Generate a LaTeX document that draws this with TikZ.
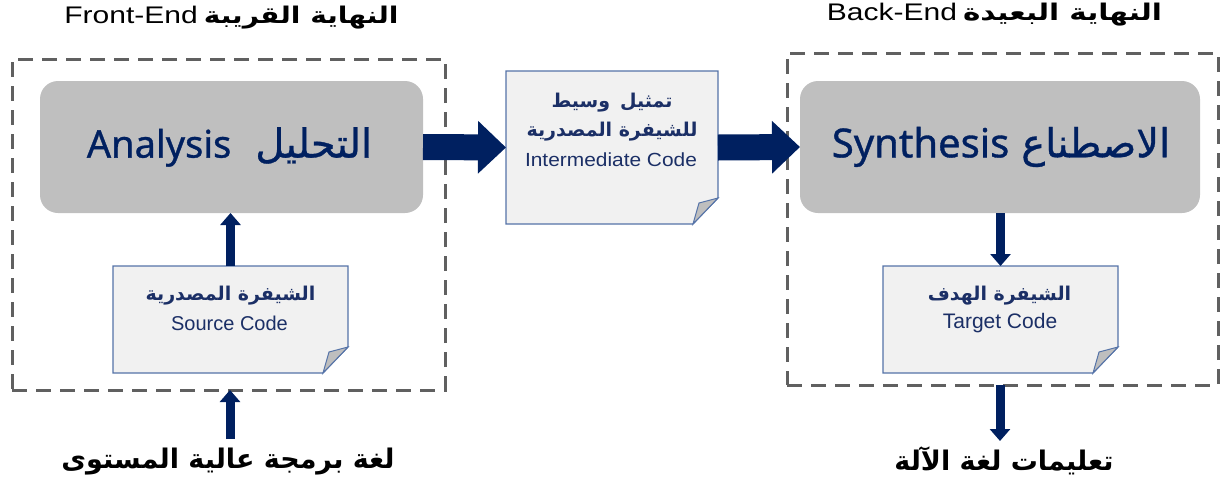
\documentclass[tikz,border=0pt]{standalone}
\usepackage{fontspec}
\usepackage{graphicx}
\setmainfont{Liberation Sans}
\newfontfamily\arabicfont[Script=Arabic]{DejaVu Sans}
\newfontfamily\stagearabic[Script=Arabic,FakeBold=0.8]{DejaVu Sans}
\newfontfamily\titlefont[FakeBold=0.9]{Noto Sans}
\TeXXeTstate=1
\usetikzlibrary{arrows.meta}
\newcommand\fsz[1]{\fontsize{#1}{#1}\selectfont}
\newcommand\wide[2]{\scalebox{#1}[1]{#2}}
\definecolor{navy}{HTML}{002060}
\definecolor{doctext}{HTML}{1B2F66}
\definecolor{dashgray}{HTML}{606060}
\definecolor{boxgray}{HTML}{BFBFBF}
\definecolor{docfill}{HTML}{F1F1F1}
\definecolor{docline}{HTML}{5573A8}
\definecolor{foldfill}{HTML}{BEBEBE}
% document sheet with a folded bottom-right corner
\newcommand\docsheet[1]{%
  \draw[docline, line width=1.2pt, fill=docfill]
    (#1.north west) -- (#1.north east) -- ([yshift=26pt]#1.south east)
    -- ([xshift=-25pt]#1.south east) -- (#1.south west) -- cycle;
  \draw[docline, line width=1pt, fill=foldfill]
    ([yshift=26pt]#1.south east) -- ([xshift=-19pt,yshift=21pt]#1.south east)
    -- ([xshift=-25pt]#1.south east) -- cycle;}
\begin{document}
\begin{tikzpicture}[x=1pt,y=-1pt,
  every node/.style={inner sep=0pt, outer sep=0pt},
  dashbox/.style={draw=dashgray, line width=3pt, dash pattern=on 15pt off 9pt},
  stagebox/.style={fill=boxgray, rounded corners=18pt, minimum height=132pt},
  sheet/.style={minimum width=235pt, minimum height=107pt},
  bigarrow/.style={navy, line width=26pt, -{Triangle[length=28pt, width=51pt]}},
  smallarrow/.style={navy, line width=9pt, -{Triangle[length=12pt, width=20pt]}},
  stagetext/.style={text=navy},
  doclabel/.style={text=doctext},
  caption/.style={text=black}]
\useasboundingbox (0,0) rectangle (1222,482);

% the two stage groups
\node[dashbox, minimum width=433pt, minimum height=331pt] (frontend) at (228.5,224.5) {};
\node[dashbox, minimum width=431pt, minimum height=332pt] (backend) at (1002.5,219) {};

% stage boxes
\node[stagebox, minimum width=383pt] (analysis) at (231.5,147) {};
\node[stagebox, minimum width=400pt] (synthesis) at (1000,147) {};
\node[stagetext] (analysislbl) at (229.5,147)
  {{\titlefont\fsz{38}Analysis}\hspace{24pt}{\stagearabic\fsz{40}\beginR التحليل\endR}};
\node[stagetext] (synthesislbl) at (1001,147)
  {{\titlefont\fsz{40}Synthesis}\hspace{12pt}{\stagearabic\fsz{40}\beginR الاصطناع\endR}};

% code sheets
\node[minimum width=212pt, minimum height=153pt] (inter) at (612,147.5) {};
\node[sheet] (source) at (230.5,319.5) {};
\node[sheet] (target) at (1000.5,319.5) {};
\docsheet{inter}
\docsheet{source}
\docsheet{target}

\node[doclabel] (interA) at (612,103) {\arabicfont\bfseries\fsz{19}\beginR تمثيل\hspace{10pt}وسيط\endR};
\node[doclabel] (interB) at (612,132) {\arabicfont\bfseries\fsz{19}\beginR للشيفرة المصدرية\endR};
\node[doclabel] (interC) at (611,160) {\fsz{19}\wide{1.1}{Intermediate Code}};
\node[doclabel] (sourceA) at (230.5,296) {\arabicfont\bfseries\fsz{19}\beginR الشيفرة المصدرية\endR};
\node[doclabel] (sourceB) at (229.5,323) {\fsz{20}Source Code};
\node[doclabel] (targetA) at (999.5,296) {\arabicfont\bfseries\fsz{19}\beginR الشيفرة الهدف\endR};
\node[doclabel] (targetB) at (1000,323) {\fsz{21}Target Code};

% group titles
\node[caption] (fronttitle) at (231.5,18)
  {\wide{1.25}{\fsz{24}Front-End}\hspace{6pt}\wide{1.22}{\arabicfont\bfseries\fsz{23}\beginR النهاية القريبة\endR}};
\node[caption] (backtitle) at (994.5,15)
  {\wide{1.25}{\fsz{24}Back-End}\hspace{6pt}\wide{1.28}{\arabicfont\bfseries\fsz{23}\beginR النهاية البعيدة\endR}};

% input and output texts
\node[caption] (inputlbl) at (228,462)
  {\arabicfont\bfseries\fsz{27}\beginR لغة برمجة عالية المستوى\endR};
\node[caption] (outputlbl) at (1004,461)
  {\arabicfont\bfseries\fsz{27}\beginR تعليمات لغة الآلة\endR};
\coordinate (inputtip) at (230,439);
\coordinate (outputtip) at (1000,441);

% flow arrows
\draw[bigarrow] (analysis.east) -- (inter.west);
\draw[bigarrow] (inter.east) -- (synthesis.west);
\draw[smallarrow] (source.north) -- (analysis.south -| source.north);
\draw[smallarrow] (synthesis.south -| target.north) -- (target.north);
\draw[smallarrow] (inputtip) -- (inputtip |- frontend.south);
\draw[smallarrow] (outputtip |- backend.south) -- (outputtip);
\end{tikzpicture}
\end{document}
